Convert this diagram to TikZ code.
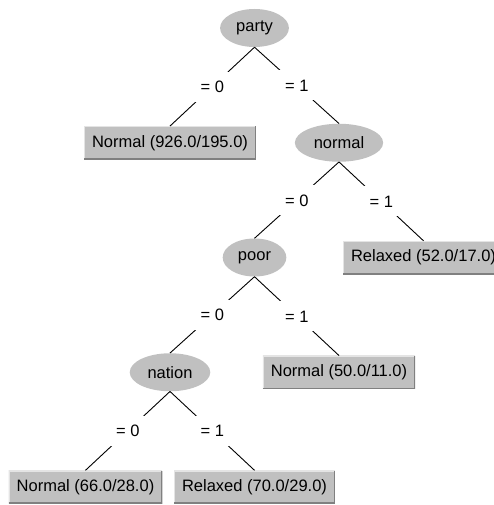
\documentclass[tikz,border=0pt]{standalone}
\usepackage{fontspec}
\setmainfont{Liberation Sans}
\usepackage{xcolor}
\usepackage{tikz}
\usetikzlibrary{shapes}

\definecolor{nodegray}{RGB}{192,192,192}
\definecolor{shadegray}{RGB}{128,128,128}
\definecolor{lightedge}{RGB}{228,228,228}

\tikzset{
  attrnode/.style={ellipse, fill=nodegray, inner xsep=6pt, inner ysep=0pt, minimum height=38pt},
  leafbox/.style={rectangle, fill=nodegray, inner xsep=8pt, minimum height=33pt,
    path picture={
      \draw[lightedge, line width=2pt] (path picture bounding box.south west) -- (path picture bounding box.north west) -- (path picture bounding box.north east);
      \draw[shadegray, line width=2.4pt] (path picture bounding box.south west) -- (path picture bounding box.south east) -- (path picture bounding box.north east);
    }},
  branchlbl/.style={fill=white, inner xsep=8pt, inner ysep=9pt, text height=12pt, text depth=0pt}
}

\begin{document}
\begin{tikzpicture}[x=1pt, y=1pt, font=\fontsize{16.5}{19}\selectfont,
    level distance=114.75pt, sibling distance=169pt,
    edge from parent/.style={draw, black, line width=0.9pt},
    edge from parent path={(\tikzparentnode.south) -- (\tikzchildnode.north)}]
        \useasboundingbox (0,0) rectangle (494,-505);
        \clip (0,0) rectangle (494,-505);
        \node[attrnode] (party) at (254.5,-28) {party}
          child {node[leafbox] (normal926) {Normal (926.0/195.0)}
            edge from parent node[branchlbl] {= 0}
          }
          child {node[attrnode] (normal) {normal}
            child {node[attrnode] (poor) {poor}
              child {node[attrnode] (nation) {nation}
                child {node[leafbox] (normal66) {Normal (66.0/28.0)}
                  edge from parent node[branchlbl] {= 0}}
                child {node[leafbox] (relaxed70) {Relaxed (70.0/29.0)}
                  edge from parent node[branchlbl] {= 1}}
                edge from parent node[branchlbl] {= 0}
              }
              child {node[leafbox] (normal50) {Normal (50.0/11.0)}
                edge from parent node[branchlbl] {= 1}}
              edge from parent node[branchlbl] {= 0}
            }
            child {node[leafbox] (relaxed52) {Relaxed (52.0/17.0)}
              edge from parent node[branchlbl] {= 1}}
            edge from parent node[branchlbl] {= 1}
          };
      \end{tikzpicture}
\end{document}
